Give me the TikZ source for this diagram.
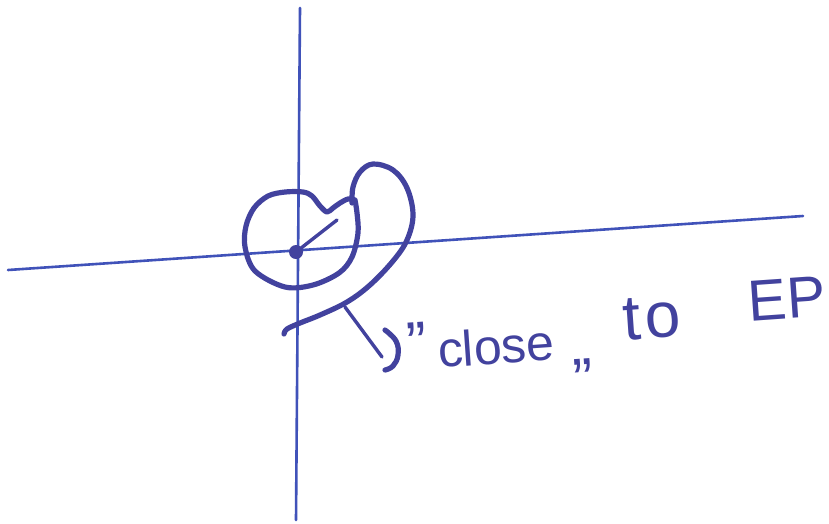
\documentclass[tikz,border=0pt]{standalone}
\usepackage{fontspec}
\setmainfont{Liberation Sans}
\definecolor{ink}{RGB}{66,66,158}
\definecolor{axisink}{RGB}{64,82,185}
\begin{document}
\begin{tikzpicture}[x=1pt,y=-1pt,line cap=round,line join=round,
  axisline/.style={draw=axisink,line width=2.6pt},
  pen/.style={draw=ink,line width=5.2pt},
  thinpen/.style={draw=ink,line width=3.4pt},
  hand/.style={text=ink,inner sep=0pt,anchor=center,rotate=4}]
\useasboundingbox[fill=white] (0,0) rectangle (829,523);
% axes
\coordinate (xl) at (8,270);
\coordinate (xr) at (803,216);
\coordinate (yt) at (300,8);
\coordinate (yb) at (296,520);
\draw[axisline] (xl) -- (xr);
\draw[axisline] (yt) -- (yb);
% kidney-shaped neighbourhood
\draw[pen] plot[smooth,tension=0.55] coordinates {
  (355,200) (348,199) (340,203) (333,208) (327,212) (320,206) (312,196)
  (303,192) (285,192) (268,196) (254,208) (246,226) (245,247) (255,271)
  (285,287) (313,285) (339,273) (352,257) (358,233) (357,213) (355,200)};
% outer curve
\draw[pen] plot[smooth,tension=0.6] coordinates {
  (352,203) (353,187) (360,172) (373,164) (393,170) (407,188) (413,215)
  (407,240) (393,261) (370,285) (347,302) (320,315) (300,323) (287,329) (284,334)};
% origin and radius
\node[circle,fill=ink,minimum width=12pt,minimum height=14pt,inner sep=0pt] (origin) at (296,252) {};
\coordinate (tip) at (337,220);
\draw[thinpen] (origin.center) -- (tip);
% leader line with hook
\coordinate (lstart) at (345,307);
\coordinate (lend) at (382,357);
\draw[thinpen] (lstart) -- (lend);
\coordinate (h1) at (385,330);
\coordinate (h5) at (385,370);
\draw[pen] plot[smooth,tension=0.7] coordinates {(h1) (396,341) (398,355) (393,366) (h5)};
% label
\node[hand,font=\fontsize{60}{64}\selectfont] (oq) at (417,343) {"};
\node[hand,font=\fontsize{50}{54}\selectfont] (close) at (496,346) {close};
\node[hand,font=\fontsize{60}{64}\selectfont] (cq) at (583,366) {„};
\node[hand,font=\fontsize{64}{68}\selectfont] (to) at (652,318) {t\kern4pt o};
\node[hand,font=\fontsize{58}{62}\selectfont] (ep) at (787,299) {EP};
\end{tikzpicture}
\end{document}
